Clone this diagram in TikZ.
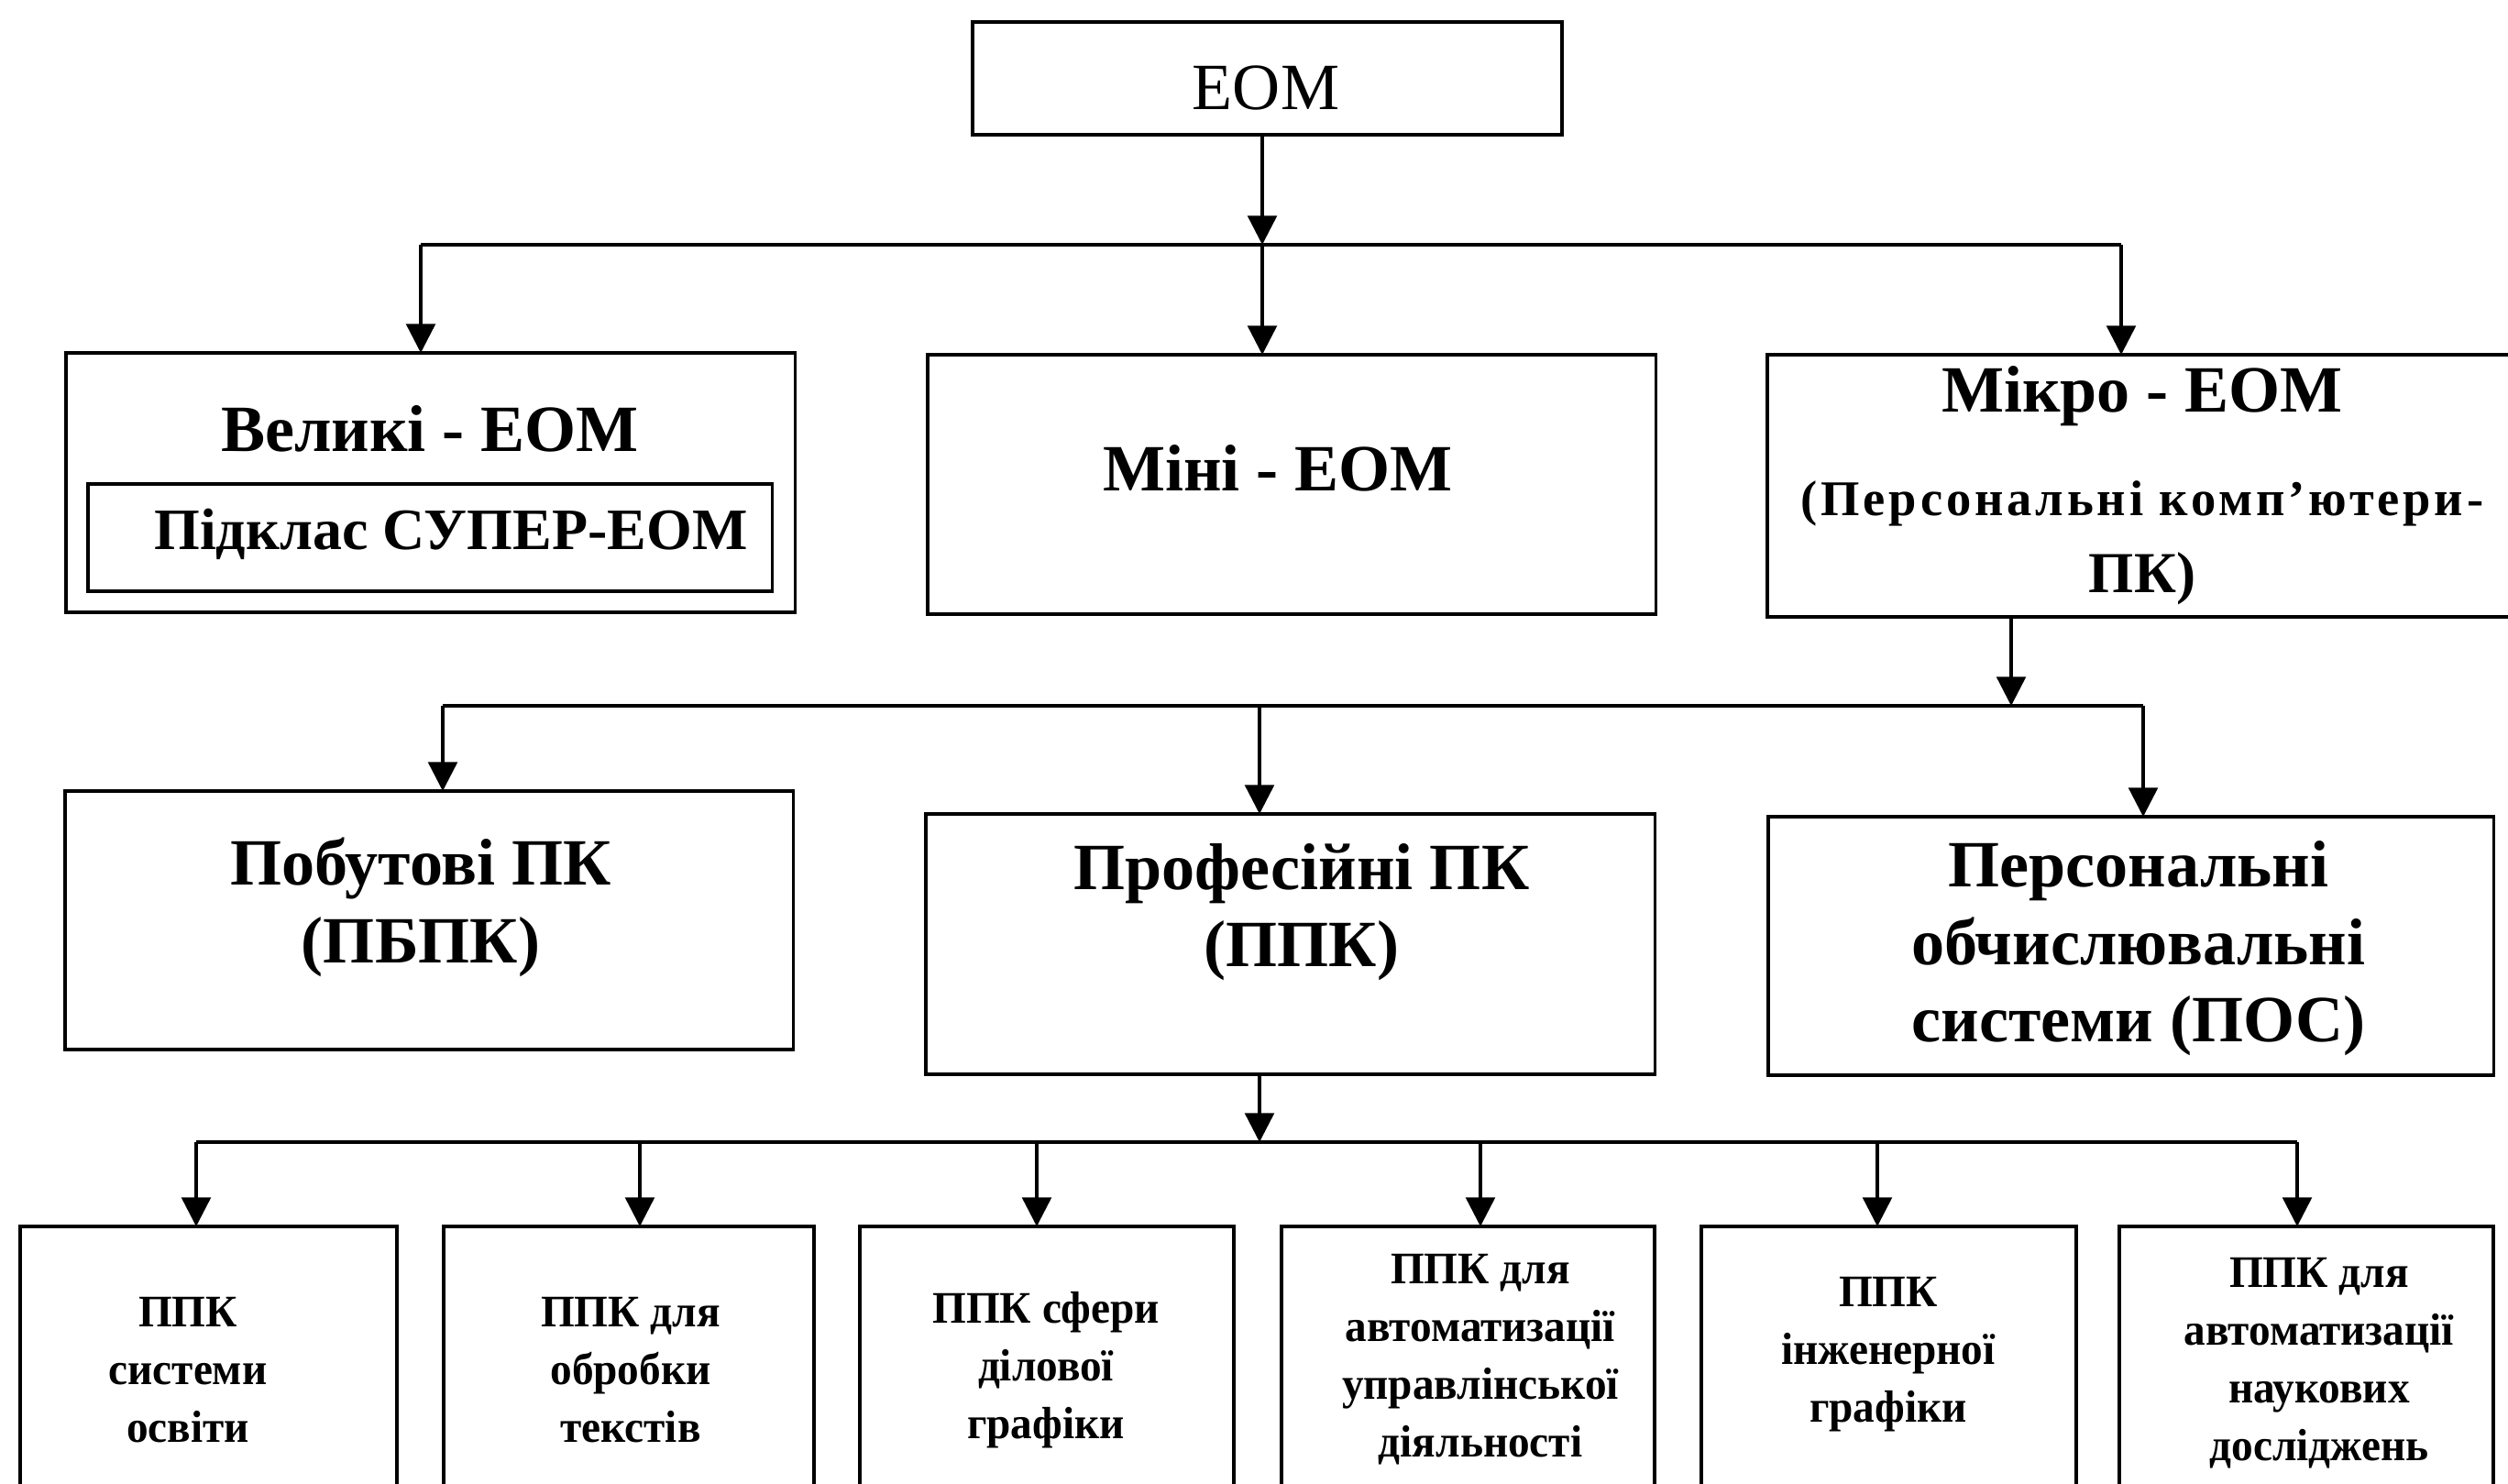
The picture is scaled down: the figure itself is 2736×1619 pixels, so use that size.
\documentclass[tikz,border=0pt]{standalone}
\usepackage{fontspec}
\setmainfont{Liberation Serif}
\newfontfamily\spaced[LetterSpace=7]{Liberation Serif}
\newfontfamily\cond[FakeStretch=0.96]{Liberation Serif}
\usetikzlibrary{arrows.meta}

\begin{document}
\begin{tikzpicture}[x=0.01cm, y=-0.01cm,
  box/.style={draw, line width=1.1pt, anchor=north west, inner sep=0pt, outer sep=0pt},
  arr/.style={line width=1pt, -{Triangle[length=9pt,width=9pt]}},
  bus/.style={line width=1pt},
  lbl/.style={font=\bfseries\fontsize{20.5}{24}\selectfont, align=center, inner sep=0pt},
  sml/.style={font=\cond\bfseries\fontsize{14}{17.9}\selectfont, align=center, inner sep=0pt}]

\useasboundingbox (0,0) rectangle (2736,1619);
\clip (0,0) rectangle (2736,1619);

% --- boxes ---
\node[box, minimum width=6.43cm, minimum height=1.23cm] (eom)   at (1061,24)  {};
\node[box, minimum width=7.95cm, minimum height=2.83cm] (big)   at (72,385)   {};
\node[box, minimum width=7.46cm, minimum height=1.17cm] (super) at (96,528)   {};
\node[box, minimum width=7.94cm, minimum height=2.83cm] (mini)  at (1012,387) {};
\node[box, minimum width=8.20cm, minimum height=2.86cm] (micro) at (1928,387) {};
\node[box, minimum width=7.94cm, minimum height=2.82cm] (pbpk)  at (71,863)   {};
\node[box, minimum width=7.95cm, minimum height=2.84cm] (ppk)   at (1010,888) {};
\node[box, minimum width=7.91cm, minimum height=2.82cm] (pos)   at (1929,891) {};

\node[box, minimum width=4.11cm, minimum height=3.2cm] (b1) at (22,1338)   {};
\node[box, minimum width=4.04cm, minimum height=3.2cm] (b2) at (484,1338)  {};
\node[box, minimum width=4.08cm, minimum height=3.2cm] (b3) at (938,1338)  {};
\node[box, minimum width=4.07cm, minimum height=3.2cm] (b4) at (1398,1338) {};
\node[box, minimum width=4.09cm, minimum height=3.2cm] (b5) at (1856,1338) {};
\node[box, minimum width=4.08cm, minimum height=3.2cm] (b6) at (2312,1338) {};

% --- texts ---
\node[font=\fontsize{20.5}{24}\selectfont, inner sep=0pt] (teom) at (1381,96) {ЕОМ};
\node[lbl] (tbig) at (469,468) {Великі - ЕОМ};
\node[lbl, font=\bfseries\fontsize{18.2}{21}\selectfont] (tsuper) at (492,583) {Підклас СУПЕР-ЕОМ};
\node[lbl] (tmini) at (1394,511) {Міні - ЕОМ};
\node[lbl] (tmicro) at (2337,530)
  {Мікро - ЕОМ\\[8pt]
   \spaced\fontsize{15.5}{21.3}\selectfont (Персональні комп’ютери-\\
   \fontsize{18}{21.3}\selectfont ПК)};
\node[lbl] (tpbpk) at (459,990) {Побутові ПК\\(ПБПК)};
\node[lbl] (tppk) at (1420,995) {Професійні ПК\\(ППК)};
\node[lbl] (tpos) at (2333,1035) {Персональні\\обчислювальні\\системи (ПОС)};

\node[sml] (t1) at (205,1495)  {ППК\\системи\\освіти};
\node[sml] (t2) at (688,1495)  {ППК для\\обробки\\текстів};
\node[sml] (t3) at (1141,1495) {ППК сфери\\ділової\\графіки};
\node[sml] (t4) at (1615,1483) {ППК для\\автоматизації\\управлінської\\діяльності};
\node[sml] (t5) at (2060,1478) {ППК\\інженерної\\графіки};
\node[sml] (t6) at (2530,1487) {ППК для\\автоматизації\\наукових\\досліджень};

% --- bus junctions ---
\coordinate (j1) at (1377,267);
\coordinate (bus1L) at (459,267);
\coordinate (bus1R) at (2314,267);
\coordinate (j2) at (2194,770);
\coordinate (bus2L) at (483,770);
\coordinate (bus2M) at (1374,770);
\coordinate (bus2R) at (2338,770);
\coordinate (j3) at (1374,1246);
\coordinate (bus3L) at (214,1246);
\coordinate (bus3R) at (2506,1246);
\coordinate (c2) at (698,1246);
\coordinate (c3) at (1131,1246);
\coordinate (c4) at (1615,1246);
\coordinate (c5) at (2048,1246);

% --- level 1 ---
\draw[arr] (eom.south -| j1) -- (j1);
\draw[bus] (bus1L) -- (bus1R);
\draw[arr] (bus1L) -- (bus1L |- big.north);
\draw[arr] (j1) -- (j1 |- mini.north);
\draw[arr] (bus1R) -- (bus1R |- micro.north);

% --- level 2 ---
\draw[arr] (micro.south -| j2) -- (j2);
\draw[bus] (bus2L) -- (bus2R);
\draw[arr] (bus2L) -- (bus2L |- pbpk.north);
\draw[arr] (bus2M) -- (bus2M |- ppk.north);
\draw[arr] (bus2R) -- (bus2R |- pos.north);

% --- level 3 ---
\draw[arr] (ppk.south -| j3) -- (j3);
\draw[bus] (bus3L) -- (bus3R);
\draw[arr] (bus3L) -- (bus3L |- b1.north);
\draw[arr] (c2) -- (c2 |- b2.north);
\draw[arr] (c3) -- (c3 |- b3.north);
\draw[arr] (c4) -- (c4 |- b4.north);
\draw[arr] (c5) -- (c5 |- b5.north);
\draw[arr] (bus3R) -- (bus3R |- b6.north);
\end{tikzpicture}
\end{document}
